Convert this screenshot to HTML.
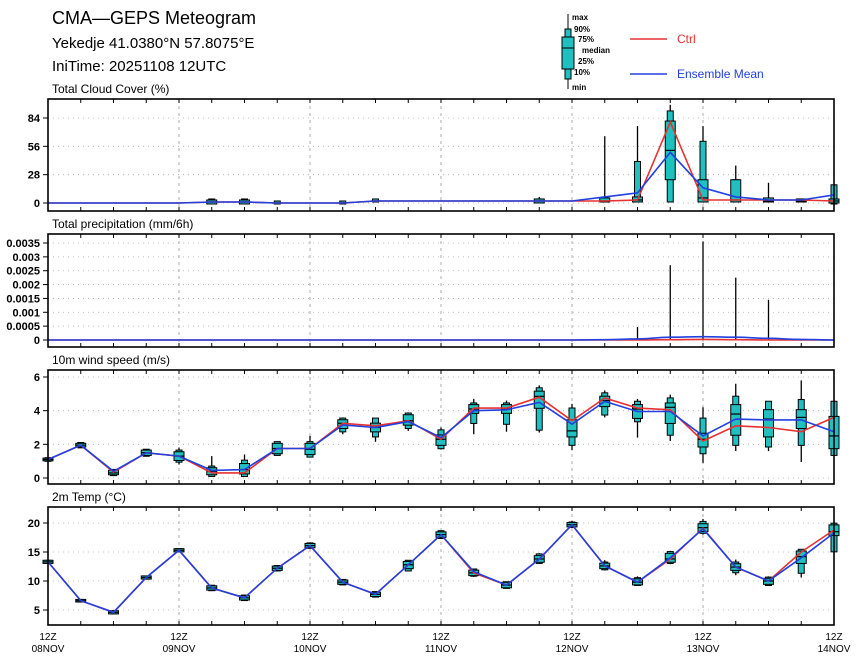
<!DOCTYPE html>
<html><head><meta charset="utf-8"><style>
html,body{margin:0;padding:0;background:#fff;}
svg{display:block;font-family:"Liberation Sans",sans-serif;}
</style></head><body>
<svg id="chart" width="860" height="662" viewBox="0 0 860 662">
<g>
<text x="52" y="24" font-size="18">CMA—GEPS Meteogram</text>
<text x="52" y="48" font-size="15">Yekedje 41.0380°N 57.8075°E</text>
<text x="52" y="71" font-size="15">IniTime: 20251108 12UTC</text>
</g>
<g font-size="8" font-weight="bold">
<line x1="568" y1="14" x2="568" y2="89" stroke="#000" stroke-width="1"/>
<rect x="565" y="29" width="6" height="50" fill="#20c0c0" stroke="#000"/>
<rect x="562" y="37" width="12" height="32" fill="#20c0c0" stroke="#000"/>
<line x1="562" y1="48" x2="574" y2="48" stroke="#000"/>
<text x="572" y="20">max</text><text x="574" y="32">90%</text><text x="578" y="42">75%</text>
<text x="582" y="53">median</text><text x="578" y="64">25%</text><text x="574" y="75">10%</text><text x="572" y="90">min</text>
</g>
<g font-size="12">
<line x1="630" y1="39" x2="667" y2="39" stroke="#e83030" stroke-width="1.5"/>
<text x="677" y="43" fill="#e83030">Ctrl</text>
<line x1="630" y1="74" x2="667" y2="74" stroke="#2040e0" stroke-width="1.5"/>
<text x="677" y="78" fill="#2040e0">Ensemble Mean</text>
</g>
</svg>
<script>
const xLabels=["08NOV","09NOV","10NOV","11NOV","12NOV","13NOV","14NOV"];
// Cloud cover
const cloudCtrl=[0,0,0,0,0,1,1,0,0,0,2,2,2,2,2,2,2,2,3,80,3,3,3,3,2];
const cloudMean=[0,0,0,0,0,1,1,0,0,0,2,2,2,2,2,2,2,6,10,50,15,6,3,3,8];
const cloudMin=[0,0,0,0,0,0,0,0,0,0,2,2,2,2,2,1,2,2,2,2,2,2,2,2,0];
const cloudP10=[0,0,0,0,0,0,0,0,0,0,2,2,2,2,2,1,2,2,2,2,2,2,2,2,0];
const cloudP25=[0,0,0,0,0,0,0,0,0,0,2,2,2,2,2,1,2,2,2,24,2,2,2,2,1];
const cloudMed=[0,0,0,0,0,1,1,0,0,0,2,2,2,2,2,2,2,2,3,52,5,3,2,2,2];
const cloudP75=[0,0,0,0,0,2,2,0,0,0,2,2,2,2,2,3,2,4,5,80,22,22,4,3,3];
const cloudP90=[0,0,0,0,0,3,3,1,0,1,3,2,2,2,2,3,2,5,40,90,60,22,4,3,17];
const cloudMax=[0,0,0,0,0,3,3,1,0,2,3,2,2,2,2,6,2,66,76,97,76,37,20,3,17];
const cloudTicks=[0,28,56,84];
// Precipitation
const precCtrl=[0,0,0,0,0,0,0,0,0,0,0,0,0,0,0,0,0,0,0,0.00001,0.00002,0.00001,0,0,0];
const precMean=[0,0,0,0,0,0,0,0,0,0,0,0,0,0,0,0,0,0.00001,0.00004,0.0001,0.00012,0.0001,0.00006,0.00002,0];
const precMax=[0,0,0,0,0,0,0,0,0,0,0,0,0,0,0,0,0,0,0.00047,0.0027,0.00355,0.00225,0.00145,0,0];
const precZero=[0,0,0,0,0,0,0,0,0,0,0,0,0,0,0,0,0,0,0,0,0,0,0,0,0];
const precTicks=[0,0.0005,0.001,0.0015,0.002,0.0025,0.003,0.0035];
const precTickLabels=["0","0.0005","0.001","0.0015","0.002","0.0025","0.003","0.0035"];
// Wind
const windCtrl=[1.1,1.95,0.35,1.5,1.3,0.3,0.3,1.75,1.75,3.25,3.1,3.4,2.3,4.15,4.15,4.8,3.4,4.75,4.15,4.05,2.2,3.1,3.0,2.75,3.6];
const windMean=[1.1,1.95,0.4,1.5,1.3,0.45,0.5,1.75,1.75,3.15,3.0,3.35,2.4,4.0,4.05,4.5,3.2,4.55,3.95,3.95,2.5,3.5,3.45,3.45,2.75];
const windMin=[1.05,1.85,0.15,1.3,0.8,0.1,0.1,1.35,1.25,2.6,2.15,2.8,1.7,2.6,2.75,2.7,1.65,3.6,2.4,2.2,0.9,1.6,1.6,0.95,1.3];
const windP10=[1.05,1.85,0.2,1.35,1.0,0.15,0.15,1.4,1.3,2.8,2.5,3.0,1.8,3.3,3.25,2.9,2.0,3.8,3.4,2.6,1.5,2.0,1.9,2.0,1.4];
const windP25=[1.08,1.9,0.25,1.4,1.1,0.25,0.3,1.5,1.45,3.0,2.8,3.2,2.0,3.9,3.9,4.2,2.5,4.3,3.6,3.3,1.9,2.6,2.5,3.0,1.8];
const windMed=[1.1,1.95,0.3,1.5,1.3,0.4,0.5,1.75,1.7,3.25,3.0,3.4,2.3,4.1,4.1,4.85,2.8,4.6,4.1,4.2,2.3,3.8,3.5,3.6,2.5];
const windP75=[1.12,2.0,0.4,1.6,1.5,0.55,0.8,2.0,2.0,3.4,3.2,3.7,2.5,4.3,4.3,5.1,3.4,4.8,4.3,4.4,2.6,4.3,4.0,4.0,3.6];
const windP90=[1.15,2.05,0.45,1.65,1.6,0.65,1.0,2.1,2.1,3.5,3.5,3.8,2.8,4.4,4.4,5.3,4.1,5.0,4.5,4.7,3.5,4.8,4.5,4.6,4.5];
const windMax=[1.15,2.1,0.5,1.7,1.8,1.3,1.4,2.1,2.5,3.6,3.5,3.9,3.0,4.7,4.6,5.5,4.4,5.2,4.7,4.95,4.2,5.6,4.5,5.8,4.5];
const windTicks=[0,2,4,6];
// Temperature
const tempCtrl=[13.3,6.6,4.6,10.6,15.3,8.8,7.1,12.2,16.1,9.8,7.7,12.8,18.0,11.4,9.3,13.8,19.7,12.6,9.8,13.8,19.1,12.4,10.0,15.0,18.8];
const tempMean=[13.3,6.6,4.6,10.6,15.3,8.8,7.1,12.2,16.1,9.8,7.7,12.8,18.0,11.6,9.3,13.8,19.7,12.6,9.8,14.0,19.0,12.4,10.0,14.0,18.3];
const tempMin=[13.2,6.5,4.5,10.4,15.1,8.4,6.7,11.8,15.7,9.4,7.3,11.7,17.3,10.7,8.8,13.0,19.3,11.8,9.2,12.9,18.0,11.0,9.2,10.6,15.0];
const tempP10=[13.2,6.55,4.5,10.5,15.2,8.5,6.8,11.9,15.8,9.5,7.4,11.9,17.5,11.0,8.9,13.2,19.4,12.1,9.4,13.2,18.4,11.6,9.4,11.5,15.2];
const tempP25=[13.2,6.55,4.5,10.5,15.2,8.6,6.9,12.0,15.9,9.6,7.5,12.3,17.7,11.1,9.0,13.4,19.5,12.3,9.5,13.4,18.7,12.0,9.6,13.2,18.0];
const tempMed=[13.3,6.6,4.6,10.6,15.3,8.8,7.1,12.2,16.1,9.8,7.7,12.8,18.0,11.4,9.3,13.8,19.7,12.6,9.8,13.8,19.2,12.4,10.0,14.2,18.5];
const tempP75=[13.4,6.65,4.7,10.7,15.4,9.0,7.3,12.4,16.3,10.0,7.9,13.2,18.3,11.7,9.6,14.2,19.9,12.9,10.2,14.6,19.7,12.8,10.3,15.0,19.5];
const tempP90=[13.4,6.65,4.7,10.7,15.4,9.1,7.4,12.5,16.4,10.1,8.0,13.4,18.5,11.9,9.7,14.5,20.0,13.1,10.4,14.9,20.1,13.1,10.5,15.3,19.8];
const tempMax=[13.4,6.7,4.7,10.8,15.5,9.2,7.5,12.6,16.5,10.2,8.1,13.6,18.7,12.0,9.8,14.8,20.4,13.6,10.8,15.2,20.7,13.7,10.8,15.5,20.0];
const tempTicks=[5,10,15,20];

const NS="http://www.w3.org/2000/svg";
const svg=document.getElementById('chart');
const X0=48,X1=834,N=24;
function xs(i){return X0+(X1-X0)*i/N;}
function mk(tag,attrs,parent){const e=document.createElementNS(NS,tag);for(const k in attrs)e.setAttribute(k,attrs[k]);parent.appendChild(e);return e;}

function panel(o){
  const g=mk('g',{},svg);
  
  
  const ys=v=>o.y0pix+(v-o.v0)*(o.y1pix-o.y0pix)/(o.v1-o.v0);
  const t=mk('text',{x:52,y:o.top-6,'font-size':12},g);
  t.textContent=o.title;
  
  
  // grid
  for(let d=1;d<6;d++){const gl=mk('line',{x1:xs(d*4),x2:xs(d*4),y1:o.top,y2:o.bot,stroke:'#999','stroke-dasharray':'3,4','stroke-width':0.8},g);
    
    }
  o.ticks.forEach((v,k)=>{
    const y=ys(v);
    const hl=mk('line',{x1:X0,x2:X1,y1:y,y2:y,stroke:'#aaa','stroke-dasharray':'1,4','stroke-width':0.8},g);
    
    
    mk('line',{x1:X0-5,x2:X0,y1:y,y2:y,stroke:'#000'},g);
    const tl=mk('text',{x:X0-8,y:y+4,'font-size':11,'font-weight':'bold','text-anchor':'end'},g);
    tl.textContent=o.labels?o.labels[k]:String(v);
    
    
  });
  for(let i=0;i<=N;i++){mk('line',{x1:xs(i),x2:xs(i),y1:o.bot,y2:o.bot-4,stroke:'#000'},g);mk('line',{x1:xs(i),x2:xs(i),y1:o.top,y2:o.top+4,stroke:'#000'},g);}
  // boxes
  for(let i=0;i<=N;i++){
    const x=xs(i);
    const bg=mk('g',{},g);
    
    
    if(o.max[i]>o.min[i]) mk('line',{x1:x,x2:x,y1:ys(o.min[i]),y2:ys(o.max[i]),stroke:'#000','stroke-width':1.3},bg);
    const a=ys(o.p90[i]),b=ys(o.p10[i]);
    if(b-a>0.3||o.always) mk('rect',{x:x-3,y:a-1,width:6,height:Math.max(b-a,0)+2,fill:'#20c0c0',stroke:'#000','stroke-width':1},bg);
    const c=ys(o.p75[i]),d=ys(o.p25[i]);
    if(d-c>0.3||o.always) mk('rect',{x:x-5,y:c-1,width:10,height:Math.max(d-c,0)+2,fill:'#20c0c0',stroke:'#000','stroke-width':1},bg);
    if(o.always||b-a>0.3) mk('line',{x1:x-5,x2:x+5,y1:ys(o.med[i]),y2:ys(o.med[i]),stroke:'#000','stroke-width':1.2},bg);
  }
  const line=(arr,col,nm,smooth)=>{
    let dstr='';
    if(smooth){
      dstr='M'+xs(0)+','+ys(arr[0]);
      for(let i=0;i<N;i++){const xa=xs(i),xb=xs(i+1),ya=ys(arr[i]),yb=ys(arr[i+1]);const mx=(xa+xb)/2;dstr+=' C'+mx+','+ya+' '+mx+','+yb+' '+xb+','+yb;}
    } else dstr=arr.map((v,i)=>(i?'L':'M')+xs(i).toFixed(1)+','+ys(v).toFixed(1)).join(' ');
    const p=mk('path',{d:dstr,fill:'none',stroke:col,'stroke-width':1.6},g);
    
    
  };
  line(o.ctrl,'#e83030',o.name+'-ctrl-line',o.smooth);
  line(o.mean,'#2040e0',o.name+'-mean-line',o.smooth);
  const fr=mk('rect',{x:X0,y:o.top,width:X1-X0,height:o.bot-o.top,fill:'none',stroke:'#000','stroke-width':1.6},g);
  
  
}
panel({name:'cloud',title:'Total Cloud Cover (%)',top:99,bot:211,v0:0,v1:84,y0pix:203,y1pix:118,ticks:cloudTicks,
 ctrl:cloudCtrl,mean:cloudMean,min:cloudMin,p10:cloudP10,p25:cloudP25,med:cloudMed,p75:cloudP75,p90:cloudP90,max:cloudMax,always:false});
panel({name:'precip',title:'Total precipitation (mm/6h)',top:234,bot:347,v0:0,v1:0.0035,y0pix:340,y1pix:243,ticks:precTicks,labels:precTickLabels,
 ctrl:precCtrl,mean:precMean,min:precZero,p10:precZero,p25:precZero,med:precZero,p75:precZero,p90:precZero,max:precMax,smooth:true});
panel({name:'wind',title:'10m wind speed (m/s)',top:370,bot:484,v0:0,v1:6,y0pix:478,y1pix:377,ticks:windTicks,
 ctrl:windCtrl,mean:windMean,min:windMin,p10:windP10,p25:windP25,med:windMed,p75:windP75,p90:windP90,max:windMax,always:true});
panel({name:'temp',title:'2m Temp (°C)',top:507,bot:625,v0:5,v1:20,y0pix:610,y1pix:523,ticks:tempTicks,
 ctrl:tempCtrl,mean:tempMean,min:tempMin,p10:tempP10,p25:tempP25,med:tempMed,p75:tempP75,p90:tempP90,max:tempMax,always:true});
// x labels
xLabels.forEach((lab,d)=>{
  const x=xs(d*4);
  const t1=mk('text',{x:x,y:640,'font-size':10,'text-anchor':'middle'},svg);
  t1.textContent='12Z';
  
  
  const t2=mk('text',{x:x,y:652,'font-size':10,'text-anchor':'middle'},svg);
  t2.textContent=lab;
  
  
});
</script>
</body></html>
